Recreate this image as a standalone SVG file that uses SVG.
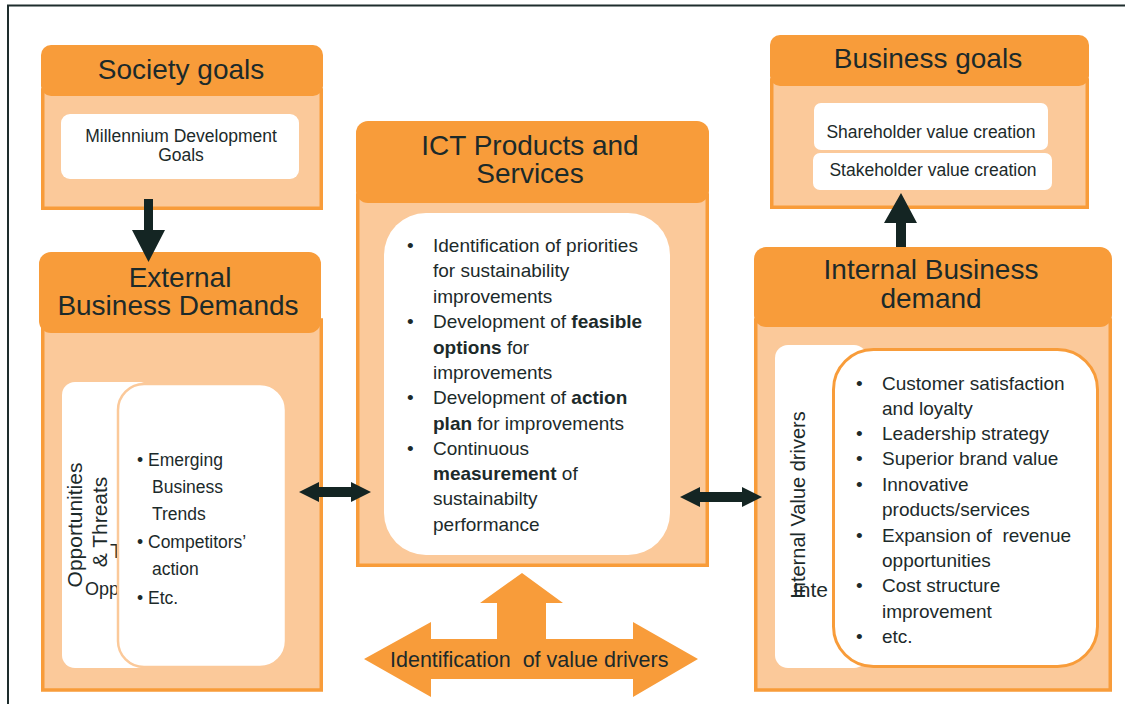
<svg xmlns="http://www.w3.org/2000/svg" width="1125" height="704" viewBox="0 0 1125 704">
<style>
text{font-family:"Liberation Sans",Arial,sans-serif;fill:#1c2a2a}
.hdr{fill:#F89C3A}
.body{fill:#FBC99A;stroke:#F89C3A;stroke-width:3.5}
.wb{fill:#ffffff}
.title{font-size:28px;text-anchor:middle}
.small{font-size:17.5px;text-anchor:middle}
.bl{font-size:19px}
.be{font-size:17.5px}
.dark{fill:#142523}
.org{fill:#F89C3A}
.b{font-weight:bold}
</style>
<rect width="1125" height="704" fill="#ffffff"/>
<path d="M8,704 V5.5 H1125" fill="none" stroke="#1e2d2d" stroke-width="2"/>

<g id="society-goals">
<rect class="body" x="42.75" y="90" width="278.5" height="118.25"/>
<rect class="hdr" x="41" y="45" width="282" height="51" rx="10"/>
<text class="title" x="181" y="79">Society goals</text>
<rect class="wb" x="61" y="114" width="238" height="65" rx="9"/>
<text class="small"><tspan x="181" y="142">Millennium Development</tspan><tspan x="181" y="161">Goals</tspan></text>
</g>

<g id="external-business-demands">
<rect class="body" x="42.75" y="320" width="278.5" height="370"/>
<rect class="hdr" x="39" y="252" width="282" height="81" rx="12"/>
<text class="title"><tspan x="180" y="287">External</tspan><tspan x="178" y="315">Business Demands</tspan></text>
<rect class="wb" x="62" y="382" width="90" height="286" rx="13"/>
<text font-size="21" text-anchor="middle" transform="translate(82,525) rotate(-90)">Opportunities</text>
<text font-size="21" text-anchor="middle" transform="translate(107,522) rotate(-90)">&amp; Threats</text>
<text font-size="21" x="110" y="558">T</text>
<text font-size="18" x="85" y="595">Opp</text>
<rect x="118" y="384" width="168" height="283" rx="26" fill="#ffffff" stroke="#FBC99A" stroke-width="2.5"/>
<g class="be">
<text x="137" y="466">• Emerging</text>
<text x="152" y="493">Business</text>
<text x="152" y="520">Trends</text>
<text x="137" y="548">• Competitors’</text>
<text x="152" y="575">action</text>
<text x="137" y="604">• Etc.</text>
</g>
</g>

<g id="ict-products-services">
<rect class="body" x="357.75" y="195" width="349.5" height="370.25"/>
<rect class="hdr" x="356" y="121" width="353" height="82" rx="12"/>
<text class="title"><tspan x="530" y="155">ICT Products and</tspan><tspan x="530" y="183">Services</tspan></text>
<rect class="wb" x="384" y="213" width="286" height="342" rx="42"/>
<g class="bl">
<text x="407" y="252">•</text><text x="433" y="252">Identification of priorities</text>
<text x="433" y="277">for sustainability</text>
<text x="433" y="303">improvements</text>
<text x="407" y="328">•</text><text x="433" y="328">Development of <tspan class="b">feasible</tspan></text>
<text x="433" y="354"><tspan class="b">options</tspan> for</text>
<text x="433" y="379">improvements</text>
<text x="407" y="404">•</text><text x="433" y="404">Development of <tspan class="b">action</tspan></text>
<text x="433" y="430"><tspan class="b">plan</tspan> for improvements</text>
<text x="407" y="455">•</text><text x="433" y="455">Continuous</text>
<text x="433" y="480"><tspan class="b">measurement</tspan> of</text>
<text x="433" y="505">sustainabilty</text>
<text x="433" y="531">performance</text>
</g>
</g>

<g id="business-goals">
<rect class="body" x="771.75" y="80" width="315.5" height="127.25"/>
<rect class="hdr" x="770" y="35" width="319" height="51" rx="10"/>
<text class="title" x="928" y="68">Business goals</text>
<rect class="wb" x="814" y="103" width="234" height="47" rx="7"/>
<text class="small" x="931" y="138">Shareholder value creation</text>
<rect class="wb" x="813" y="153" width="239" height="37" rx="7"/>
<text class="small" x="933" y="176">Stakeholder value creation</text>
</g>

<g id="internal-business-demand">
<rect class="body" x="755.75" y="320" width="354.5" height="370"/>
<rect class="hdr" x="754" y="247" width="358" height="80" rx="12"/>
<text class="title"><tspan x="931" y="279">Internal Business</tspan><tspan x="931" y="308">demand</tspan></text>
<rect class="wb" x="775" y="345" width="92" height="323" rx="13"/>
<text font-size="20" text-anchor="middle" transform="translate(805,505) rotate(-90)">Internal Value drivers</text>
<text font-size="21" x="793" y="597">Inte</text>
<rect x="833.5" y="349.5" width="264" height="317" rx="40" fill="#ffffff" stroke="#F89C3A" stroke-width="3"/>
<g class="bl">
<text x="856" y="390">•</text><text x="882" y="390">Customer satisfaction</text>
<text x="882" y="415">and loyalty</text>
<text x="856" y="440">•</text><text x="882" y="440">Leadership strategy</text>
<text x="856" y="465">•</text><text x="882" y="465">Superior brand value</text>
<text x="856" y="491">•</text><text x="882" y="491">Innovative</text>
<text x="882" y="516">products/services</text>
<text x="856" y="542">•</text><text x="882" y="542" xml:space="preserve">Expansion of  revenue</text>
<text x="882" y="567">opportunities</text>
<text x="856" y="592">•</text><text x="882" y="592">Cost structure</text>
<text x="882" y="618">improvement</text>
<text x="856" y="643">•</text><text x="882" y="643">etc.</text>
</g>
</g>

<g id="value-drivers-arrow">
<polygon class="org" points="522,573 563,603 546,603 546,639 633,639 633,622 698,659 633,697 633,679 431,679 431,697 364,659 431,622 431,639 497,639 497,603 480,603"/>
<text font-size="21.5" x="390" y="667" xml:space="preserve">Identification  of value drivers</text>
</g>

<g id="connectors">
<polygon class="dark" points="144,199 153,199 153,230 165,230 148.5,262 132,230 144,230"/>
<polygon class="dark" points="896,247 906,247 906,223 917,223 901,193 884,223 896,223"/>
<polygon class="dark" points="299,492 319,482 319,487 351,487 351,482 371,492 351,502 351,497 319,497 319,502"/>
<polygon class="dark" points="680,497 700,487 700,492 742,492 742,487 762,497 742,507 742,502 700,502 700,507"/>
</g>
</svg>
